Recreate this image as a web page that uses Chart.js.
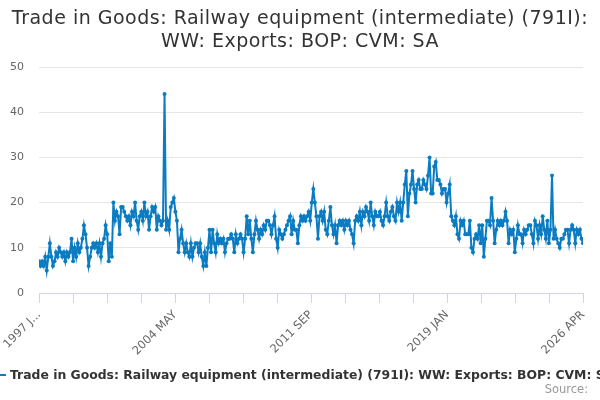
<!DOCTYPE html>
<html>
<head>
<meta charset="utf-8">
<script src="https://cdn.jsdelivr.net/npm/chart.js@4.4.1/dist/chart.umd.min.js"></script>
<style>
  html, body { margin: 0; padding: 0; background: #fff; }
  #wrap { width: 600px; height: 400px; position: relative; }
</style>
</head>
<body>
<div id="wrap"><canvas id="chart"></canvas></div>
<script>
const titleLines = ['Trade in Goods: Railway equipment (intermediate) (791I):', 'WW: Exports: BOP: CVM: SA']
const seriesName = 'Trade in Goods: Railway equipment (intermediate) (791I): WW: Exports: BOP: CVM: SA'
const sourceText = 'Source:'

// monthly, 1997 JAN .. 2026 APR
const startYear = 1997
const monthNames = ['JAN', 'FEB', 'MAR', 'APR', 'MAY', 'JUN', 'JUL', 'AUG', 'SEP', 'OCT', 'NOV', 'DEC']

const values1997to2003 = [
  7, 6, 7, 6, 8, 5, 8, 11, 8, 6, 7, 9, 8, 10, 9, 8, 9, 7, 9, 8, 9, 12, 7, 10, 8, 11,
  9, 10, 12, 15, 13, 10, 6, 8, 10, 11, 10, 11, 9, 11, 8, 11, 12, 15, 13, 7, 11, 8,
  20, 16, 18, 17, 13, 19, 19, 18, 17, 16, 17, 15, 18, 17, 20, 16, 14, 17, 18, 16,
  20, 17, 18, 14, 17, 19, 18, 19, 14, 17, 16, 15, 16,
]
const values2003to2010 = [
  44, 14, 16, 14, 19, 20, 21, 18, 16, 9, 12, 14, 11, 9, 11, 9, 8, 11, 8, 10, 11,
  11, 9, 11, 8, 6, 9, 6, 10, 14, 9, 14, 11, 9, 13, 11, 12, 11, 12, 9, 11, 12, 12,
  13, 12, 9, 13, 11, 12, 13, 12, 9, 12, 17, 13, 16, 12, 9, 13, 16, 14, 12, 14, 13,
  15, 14, 16, 16, 15, 13, 15, 17, 12, 10, 14, 13, 12, 13, 14, 15, 16, 17, 13, 16, 14,
]
const values2010to2018 = [
  14, 11, 15, 17, 16, 17, 16, 17, 18, 16, 20, 23, 20, 17, 12, 17, 18, 16, 18, 14,
  13, 16, 19, 15, 13, 15, 11, 15, 16, 15, 16, 14, 16, 15, 16, 14, 13, 11, 16, 17,
  16, 18, 15, 18, 17, 19, 18, 16, 20, 17, 15, 18, 17, 17, 18, 16, 15, 17, 20, 17,
  16, 18, 19, 17, 16, 20, 18, 20, 16, 20, 24, 27, 17, 22, 24, 27, 23, 20, 24, 25,
  23, 23, 25, 24, 23, 26, 30,
]
const values2018to2026 = [
  22, 22, 28, 29, 25, 25, 24, 22, 23, 23, 20, 22, 24, 17, 16, 15, 17, 13, 12, 16,
  15, 16, 13, 13, 13, 16, 10, 9, 12, 13, 12, 15, 11, 15, 8, 12, 16, 16, 15, 21,
  16, 11, 14, 16, 15, 16, 15, 16, 18, 16, 11, 14, 13, 14, 9, 12, 15, 13, 13, 11,
  14, 13, 14, 15, 15, 13, 11, 16, 15, 12, 15, 13, 17, 14, 12, 16, 11, 14, 26, 12,
  14, 12, 11, 10, 12, 12, 13, 14, 14, 11, 14, 15, 14, 11, 14, 13, 14, 12, 11,
]
const values = [...values1997to2003, ...values2003to2010, ...values2010to2018, ...values2018to2026]

const months = values.map((_, i) => `${startYear + Math.floor(i / 12)} ${monthNames[i % 12]}`)

const yTicks = [0, 10, 20, 30, 40, 50]
const xTickLabels = ['1997 J...', '2004 MAY', '2011 SEP', '2019 JAN', '2026 APR']
const xTickCount = 17

const lineColor = '#0b7cc2'
const fontFamily = '"DejaVu Sans", Verdana, sans-serif'

const textPlugin = {
  id: 'texts',
  afterDraw(chart) {
    const ctx = chart.ctx
    ctx.save()
    ctx.textBaseline = 'middle'
    ctx.fillStyle = '#333333'
    ctx.font = `19px ${fontFamily}`
    ctx.letterSpacing = '0.5px'
    ctx.textAlign = 'center'
    titleLines.forEach((t, i) => ctx.fillText(t, 300, 19 + i * 23))
    ctx.letterSpacing = '0px'

    // legend item, cut off at the right like the original
    ctx.strokeStyle = lineColor
    ctx.lineWidth = 2
    ctx.beginPath()
    ctx.moveTo(-8, 375)
    ctx.lineTo(6, 375)
    ctx.stroke()
    ctx.font = `bold 12.4px ${fontFamily}`
    ctx.textAlign = 'left'
    ctx.fillText(seriesName, 10, 376)

    ctx.font = `11.5px ${fontFamily}`
    ctx.fillStyle = '#999999'
    ctx.textAlign = 'right'
    ctx.fillText(sourceText, 588, 390)
    ctx.restore()
  },
}

const lastIdx = values.length - 1

new Chart(document.getElementById('chart'), {
  type: 'line',
  data: {
    datasets: [{
      label: seriesName,
      data: values.map((v, i) => ({ x: i, y: v })),
      borderColor: lineColor,
      backgroundColor: lineColor,
      borderWidth: 2,
      pointRadius: 2,
      pointBorderWidth: 0,
      pointBackgroundColor: lineColor,
      tension: 0,
    }],
  },
  options: {
    responsive: true,
    maintainAspectRatio: false,
    animation: false,
    layout: { padding: { top: 67, right: 17, bottom: 0, left: 0 } },
    scales: {
      x: {
        type: 'linear',
        min: 0,
        max: lastIdx,
        afterBuildTicks: scale => {
          scale.ticks = Array.from({ length: xTickCount }, (_, i) => ({ value: i * lastIdx / (xTickCount - 1) }))
        },
        afterFit: scale => { scale.height = 107 },
        border: { display: true, color: '#ccd6eb', width: 1 },
        grid: {
          drawOnChartArea: false,
          drawTicks: true,
          tickLength: 10,
          color: '#ccd6eb',
        },
        ticks: {
          autoSkip: false,
          minRotation: 45,
          maxRotation: 45,
          padding: 5,
          color: '#666666',
          font: { family: fontFamily, size: 11.5 },
          callback: (val, i) => (i % 4 === 0 ? xTickLabels[i / 4] : ''),
        },
      },
      y: {
        min: 0,
        max: 50,
        afterBuildTicks: scale => { scale.ticks = yTicks.map(v => ({ value: v })) },
        afterFit: scale => { scale.width = 39 },
        border: { display: false },
        grid: { color: '#e6e6e6', drawTicks: false },
        ticks: {
          padding: 15,
          color: '#666666',
          font: { family: fontFamily, size: 11 },
        },
      },
    },
    plugins: {
      legend: { display: false },
      title: { display: false },
      tooltip: {
        callbacks: {
          title: items => months[items[0].parsed.x],
        },
      },
    },
  },
  plugins: [textPlugin],
})
</script>
</body>
</html>
